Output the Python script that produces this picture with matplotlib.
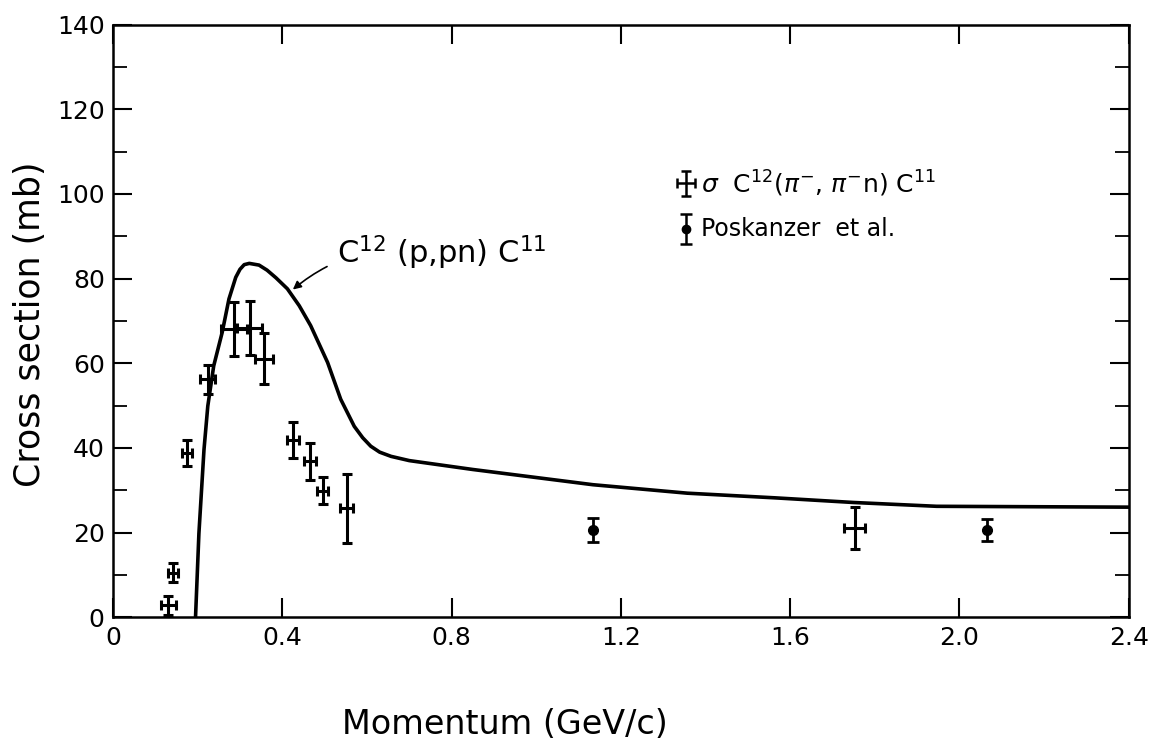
import numpy as np
import matplotlib
matplotlib.use("Agg")
from matplotlib import pyplot as plt
from matplotlib.ticker import MultipleLocator

plt.rcParams['font.family'] = ['DejaVu Sans']

# pi- induced C12 -> C11 cross sections (this work)
pi_p    = [0.131, 0.141, 0.175, 0.224, 0.286, 0.323, 0.357, 0.426, 0.466, 0.495, 0.552, 1.752]
pi_xerr = [0.018, 0.012, 0.012, 0.018, 0.030, 0.030, 0.022, 0.014, 0.014, 0.014, 0.016, 0.025]
pi_sig  = [2.8, 10.5, 38.8, 56.2, 68.1, 68.3, 61.1, 41.8, 36.8, 29.9, 25.7, 21.0]
pi_yerr = [2.3, 2.2, 3.0, 3.4, 6.3, 6.3, 6.0, 4.3, 4.3, 3.2, 8.2, 5.0]

# Poskanzer et al.
pos_p    = [1.134, 2.066]
pos_sig  = [20.6, 20.5]
pos_yerr = [2.8, 2.6]

# C12(p,pn)C11 excitation curve
pp_p   = [0.195, 0.203, 0.215, 0.224, 0.238, 0.258, 0.274, 0.290, 0.300, 0.310, 0.322,
          0.345, 0.364, 0.385, 0.412, 0.440, 0.467, 0.507, 0.538, 0.570, 0.590, 0.609,
          0.630, 0.657, 0.700, 0.850, 1.134, 1.357, 1.564, 1.750, 1.946, 2.400]
pp_sig = [0.0, 19.8, 39.6, 49.9, 59.4, 67.3, 75.2, 80.3, 82.2, 83.3, 83.6,
          83.2, 82.0, 80.2, 77.6, 73.6, 68.9, 60.2, 51.5, 45.1, 42.4, 40.4,
          39.0, 38.0, 37.0, 34.9, 31.3, 29.3, 28.2, 27.1, 26.2, 26.0]

fig = plt.figure(figsize=(11.53, 7.49), dpi=100)
ax = fig.add_axes([0.098, 0.176, 0.881, 0.791])

ax.plot(pp_p, pp_sig, color='black', lw=2.6, solid_joinstyle='round')

ax.errorbar(pi_p, pi_sig, xerr=pi_xerr, yerr=pi_yerr, fmt='none',
            ecolor='black', elinewidth=2.2, capsize=3.5, capthick=2.2)
ax.errorbar(pos_p, pos_sig, yerr=pos_yerr, fmt='o', color='black',
            ms=7, elinewidth=2.0, capsize=4, capthick=2.0)

# curve label with arrow
ax.annotate('C$^{12}$ (p,pn) C$^{11}$', xy=(0.42, 77), xytext=(0.53, 86),
            fontsize=22, va='center', ha='left',
            arrowprops=dict(arrowstyle='-|>', color='black', lw=1.2,
                            mutation_scale=12, shrinkA=6,
                            connectionstyle='arc3,rad=0.25'))

# legend drawn by hand
ax.errorbar([1.354], [102.5], xerr=[0.022], yerr=[3.0], fmt='none',
            ecolor='black', elinewidth=1.8, capsize=3.5, capthick=1.8)
ax.text(1.39, 102.5, r'$\sigma$  C$^{12}$($\pi^{-}$, $\pi^{-}$n) C$^{11}$',
        fontsize=18, va='center', ha='left')
ax.errorbar([1.354], [91.8], yerr=[3.5], fmt='o', color='black',
            ms=6, elinewidth=1.8, capsize=4, capthick=1.8)
ax.text(1.39, 91.8, 'Poskanzer  et al.', fontsize=17, va='center', ha='left')

ax.set_xlim(0, 2.4)
ax.set_ylim(0, 140)
ax.yaxis.set_major_locator(MultipleLocator(20))
ax.yaxis.set_minor_locator(MultipleLocator(10))
ax.set_xticks([0, 0.4, 0.8, 1.2, 1.6, 2.0, 2.4])
ax.set_xticklabels(['0', '0.4', '0.8', '1.2', '1.6', '2.0', '2.4'])
ax.tick_params(axis='both', which='major', direction='in', length=14, width=1.5,
               top=True, right=True, labelsize=18, pad=6)
ax.tick_params(axis='y', which='minor', direction='in', length=10, width=1.3, right=True)
for s in ax.spines.values():
    s.set_linewidth(1.8)

fig.text(505 / 1153, 1 - 725 / 749, 'Momentum (GeV/c)', fontsize=24,
         ha='center', va='center')
fig.text(30 / 1153, 1 - 324 / 749, 'Cross section (mb)', fontsize=25,
         ha='center', va='center', rotation=90)

fig.savefig('out.png', dpi=100)
